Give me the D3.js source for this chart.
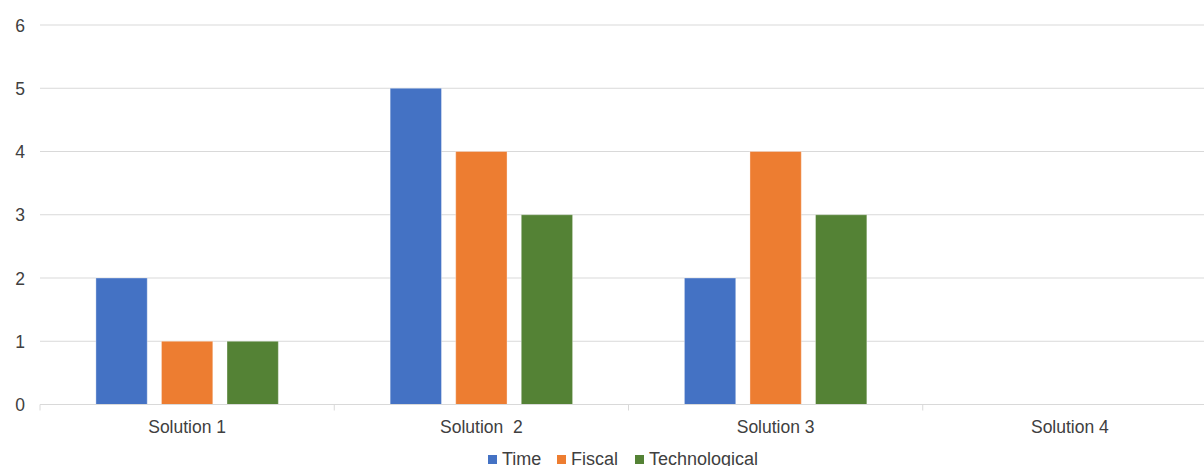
<!DOCTYPE html>
<html>
<head>
<meta charset="utf-8">
<script src="https://cdn.jsdelivr.net/npm/d3@7"></script>
<style>
  html, body { margin: 0; padding: 0; background: #fff; }
  svg { display: block; font-family: "Liberation Sans", Arial, sans-serif; }
</style>
</head>
<body>
<svg id="chart" width="1204" height="466"></svg>
<script>
// Scores per solution for each criterion
const categories = ["Solution 1", "Solution  2", "Solution 3", "Solution 4"];
const seriesNames = ["Time", "Fiscal", "Technological"];
const timeValues = [2, 5, 2, null];
const fiscalValues = [1, 4, 4, null];
const technologicalValues = [1, 3, 3, null];
const yTicks = [0, 1, 2, 3, 4, 5, 6];
const colors = ["#4472C4", "#ED7D31", "#548235"];

const seriesValues = [timeValues, fiscalValues, technologicalValues];

const width = 1204, height = 466;
const svg = d3.select("#chart");

const plotLeft = 40, plotRight = 1217, plotTop = 25, plotBottom = 404.5;

const x0 = d3.scaleBand().domain(categories).range([plotLeft, plotRight]).padding(0);
const bw = x0.bandwidth();
const x1 = d3.scaleBand().domain(seriesNames)
  .range([bw * 0.19, bw * 0.81]).paddingInner(0.217).paddingOuter(0);
const y = d3.scaleLinear().domain([0, 6]).range([plotBottom, plotTop]);

// horizontal gridlines
svg.append("g")
  .selectAll("line")
  .data(yTicks.filter(d => d > 0))
  .join("line")
  .attr("x1", plotLeft).attr("x2", width)
  .attr("y1", d => y(d)).attr("y2", d => y(d))
  .attr("stroke", "#d9d9d9").attr("stroke-width", 1);

// y axis labels
svg.append("g")
  .selectAll("text")
  .data(yTicks)
  .join("text")
  .attr("x", 25).attr("y", d => y(d) + 6.5)
  .attr("text-anchor", "end")
  .attr("font-size", "17.5px")
  .attr("fill", "#404040")
  .text(d => d);

// bars
const groups = svg.append("g")
  .selectAll("g")
  .data(categories)
  .join("g")
  .attr("transform", d => `translate(${x0(d)},0)`);

groups.selectAll("rect")
  .data((c, ci) => seriesNames.map((s, si) => ({ s, si, v: seriesValues[si][ci] })).filter(d => d.v != null))
  .join("rect")
  .attr("x", d => x1(d.s))
  .attr("width", x1.bandwidth())
  .attr("y", d => y(d.v))
  .attr("height", d => y(0) - y(d.v))
  .attr("fill", d => colors[d.si])
  .attr("stroke", "#ffffff")
  .attr("stroke-opacity", 0.35)
  .attr("stroke-width", 1);

// category axis
const gx = svg.append("g").attr("transform", `translate(0,${plotBottom})`);
gx.append("line")
  .attr("x1", plotLeft).attr("x2", width)
  .attr("stroke", "#d9d9d9");
gx.selectAll("line.tick")
  .data(categories)
  .join("line")
  .attr("class", "tick")
  .attr("x1", d => x0(d)).attr("x2", d => x0(d))
  .attr("y1", 0).attr("y2", 6)
  .attr("stroke", "#d9d9d9");
gx.selectAll("text")
  .data(categories)
  .join("text")
  .attr("x", d => x0(d) + bw / 2)
  .attr("y", 28)
  .attr("text-anchor", "middle")
  .attr("font-size", "17.5px")
  .attr("fill", "#404040")
  .attr("xml:space", "preserve")
  .style("white-space", "pre")
  .text(d => d);

// legend
const legendItems = [
  { name: seriesNames[0], color: colors[0], x: 488 },
  { name: seriesNames[1], color: colors[1], x: 557 },
  { name: seriesNames[2], color: colors[2], x: 635 }
];
const legend = svg.append("g");
legend.selectAll("rect")
  .data(legendItems)
  .join("rect")
  .attr("x", d => d.x).attr("y", 455)
  .attr("width", 9).attr("height", 9)
  .attr("fill", d => d.color);
legend.selectAll("text")
  .data(legendItems)
  .join("text")
  .attr("x", d => d.x + 14).attr("y", 465)
  .attr("font-size", "18px")
  .attr("fill", "#404040")
  .text(d => d.name);
</script>
</body>
</html>
